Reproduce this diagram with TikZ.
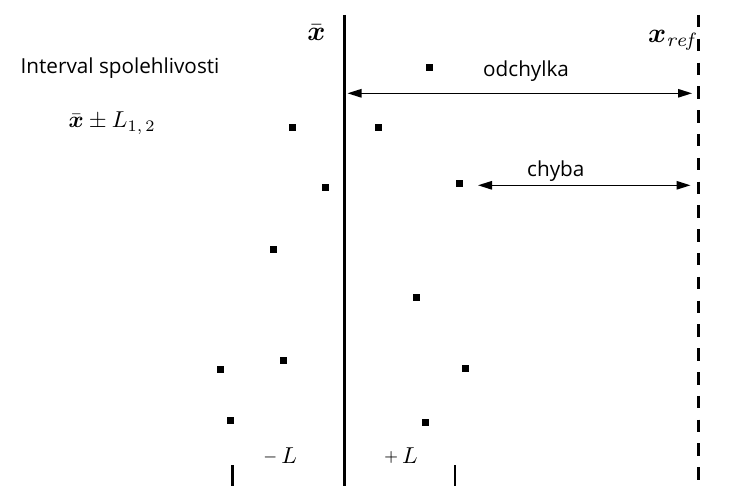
\documentclass[tikz,border=0pt]{standalone}
\usepackage{fontspec}
\usepackage{amsmath}
\usepackage{graphicx}
\usetikzlibrary{arrows.meta}
\newfontfamily\labfont{Open Sans}
\begin{document}
\begin{tikzpicture}[x=1pt,y=-1pt,
  dot/.style={rectangle,fill=black,draw=none,inner sep=0pt,minimum size=7pt},
  lbl/.style={font=\labfont\fontsize{20.7}{24}\selectfont,inner sep=0pt},
  mth/.style={inner sep=0pt,font=\fontsize{10}{12}\selectfont},
  dimarrow/.style={line width=1.3pt,{Triangle[length=14pt,width=8.5pt]}-{Triangle[length=14pt,width=8.5pt]}},
  meanline/.style={line width=3pt},
  refline/.style={line width=3.5pt,dash pattern=on 12.5pt off 11.3pt},
  tick/.style={line width=2.2pt}]
\useasboundingbox (0,0) rectangle (731,486);
% vertical lines
\coordinate (mtop) at (344,15);
\coordinate (mbot) at (344,486);
\draw[meanline] (mtop) -- (mbot);
\coordinate (rtop) at (698.5,15);
\coordinate (rbot) at (698.5,486);
\draw[refline] (rtop) -- (rbot);
% ticks
\coordinate (lt1) at (232.5,465);
\coordinate (lt2) at (232.5,486);
\draw[tick] (lt1) -- (lt2);
\coordinate (rt1) at (455,465);
\coordinate (rt2) at (455,486);
\draw[tick] (rt1) -- (rt2);
% arrows
\coordinate (oA) at (347.5,93.3);
\coordinate (oB) at (692,93.3);
\draw[dimarrow] (oA) -- (oB);
\coordinate (cA) at (478,185.3);
\coordinate (cB) at (690.5,185.3);
\draw[dimarrow] (cA) -- (cB);
% points
\node[dot] (p1) at (429.5,67.7) {};
\node[dot] (p2) at (292.3,127.7) {};
\node[dot] (p3) at (378.3,127.7) {};
\node[dot] (p4) at (325.3,188) {};
\node[dot] (p5) at (459,184) {};
\node[dot] (p6) at (273.7,249.3) {};
\node[dot] (p7) at (416,297.3) {};
\node[dot] (p8) at (283.7,360) {};
\node[dot] (p9) at (220.7,369.3) {};
\node[dot] (p10) at (465.3,368.3) {};
\node[dot] (p11) at (230.7,420) {};
\node[dot] (p12) at (425,422) {};
% labels
\node[lbl,anchor=base west] (interval) at (20.5,73.3) {Interval spolehlivosti};
\node[lbl,anchor=base west] (odch) at (483,77) {odchylka};
\node[lbl,anchor=base west] (chyba) at (527,177) {chyba};
\node[mth,anchor=base] (xbar) at (316.5,40.7) {\scalebox{2.75}{$\bar{\boldsymbol{x}}$}};
\node[mth,anchor=base west] (xref) at (648,42.7) {\scalebox{2.75}{$\boldsymbol{x}_{\mathit{ref}}$}};
\node[mth,anchor=base west] (form) at (68.5,128) {\scalebox{2.3}{$\bar{\boldsymbol{x}}\pm L_{1,\,2}$}};
\node[mth,anchor=base] (mL) at (280,463.3) {\scalebox{2.3}{$\raisebox{0.6pt}{$\scriptstyle -$}\,L$}};
\node[mth,anchor=base] (pL) at (401,463.3) {\scalebox{2.3}{$\raisebox{0.6pt}{$\scriptstyle +$}\,L$}};
\end{tikzpicture}
\end{document}
